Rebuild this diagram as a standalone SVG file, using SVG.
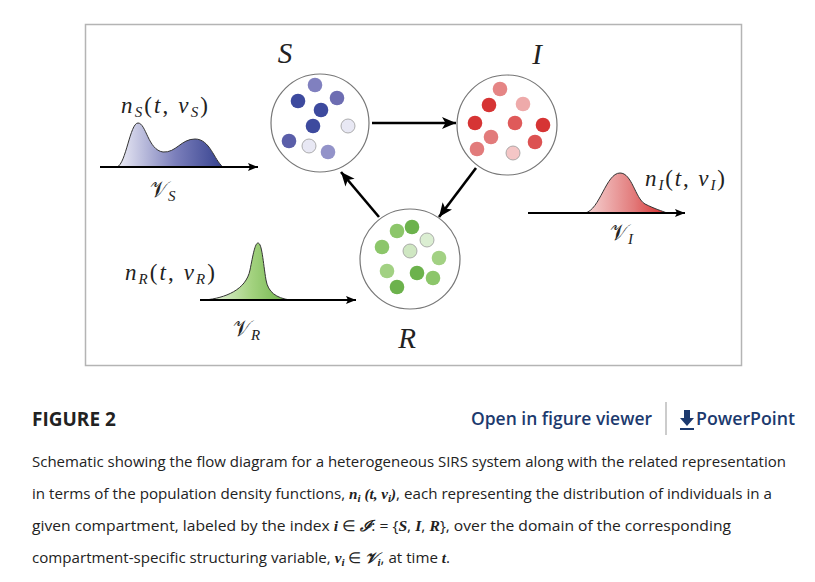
<svg xmlns="http://www.w3.org/2000/svg" width="815" height="582" viewBox="0 0 815 582">
<defs>
<linearGradient id="gS" x1="117" y1="0" x2="223" y2="0" gradientUnits="userSpaceOnUse">
<stop offset="0" stop-color="#eeeef7"/><stop offset="0.55" stop-color="#7b7fbb"/><stop offset="1" stop-color="#36428f"/>
</linearGradient>
<linearGradient id="gI" x1="585" y1="0" x2="667" y2="0" gradientUnits="userSpaceOnUse">
<stop offset="0" stop-color="#f6d6d6"/><stop offset="0.6" stop-color="#e27a7a"/><stop offset="1" stop-color="#d62b2b"/>
</linearGradient>
<linearGradient id="gR" x1="205" y1="0" x2="290" y2="0" gradientUnits="userSpaceOnUse">
<stop offset="0" stop-color="#f1f8ea"/><stop offset="0.55" stop-color="#a3d27f"/><stop offset="1" stop-color="#6cb247"/>
</linearGradient>
<marker id="ah" markerUnits="userSpaceOnUse" markerWidth="16" markerHeight="14" refX="14" refY="6" orient="auto">
<path d="M0,0 L14,6 L0,12 L3.5,6 z" fill="#000"/>
</marker>
<marker id="ah2" markerUnits="userSpaceOnUse" markerWidth="12" markerHeight="10" refX="10" refY="4" orient="auto">
<path d="M0,0 L10,4 L0,8 L2,4 z" fill="#000"/>
</marker>
</defs>
<style>
.frame{fill:#fff;stroke:#b4b4b4;stroke-width:1.5}
.circ{fill:#fff;stroke:#777;stroke-width:1.2}
.flow{stroke:#000;stroke-width:2.6;fill:none;marker-end:url(#ah)}
.axis{stroke:#000;stroke-width:2.2;fill:none;marker-end:url(#ah2)}
.curve{stroke:#333;stroke-width:1}
.lbl{font-family:"Liberation Serif","DejaVu Serif",serif;font-style:italic;fill:#222}
.up{font-style:normal}
.cal{font-family:"DejaVu Serif","Liberation Serif",serif;font-style:normal;font-weight:normal}
.cap{font-family:"Open Sans",sans-serif;font-size:15px;fill:#222}
.m{font-family:"Liberation Serif","DejaVu Serif",serif;font-style:italic;font-weight:bold}
.hd{font-family:"Open Sans",sans-serif;font-size:18px;font-weight:600}
.lt{stroke:#9a9a9a;stroke-width:0.8}
.d{r:7.3px}
</style>
<rect class="frame" x="85.5" y="24.5" width="656" height="341"/>

<g id="connectors">
<path class="flow" d="M372,123 L456,123"/>
<path class="flow" d="M476,168 L439,217"/>
<path class="flow" d="M379,217 L341,172"/>
</g>

<g id="node-S">
<circle class="circ" cx="320" cy="123" r="49"/>
<circle cx="315" cy="85" r="7.3" fill="#8080bf"/>
<circle cx="298" cy="101" r="7.3" fill="#3d4a9e"/>
<circle cx="337" cy="98" r="7.3" fill="#6d6db2"/>
<circle cx="321" cy="110" r="7.3" fill="#3d4a9e"/>
<circle cx="313" cy="126" r="7.3" fill="#3d4a9e"/>
<circle class="lt" cx="348" cy="126" r="7" fill="#e8e8f4"/>
<circle cx="289" cy="141" r="7.3" fill="#5a5ea9"/>
<circle class="lt" cx="309" cy="146" r="7" fill="#e8e8f4"/>
<circle cx="328" cy="152" r="7.3" fill="#9393c9"/>
<text class="lbl" x="285" y="63" font-size="29" text-anchor="middle">S</text>
</g>

<g id="node-I">
<circle class="circ" cx="507" cy="125" r="50"/>
<circle cx="500" cy="89" r="7.3" fill="#e58585"/>
<circle cx="489" cy="105" r="7.3" fill="#d63434"/>
<circle cx="523" cy="104" r="7.3" fill="#eeaaaa"/>
<circle cx="475" cy="123" r="7.3" fill="#d63434"/>
<circle cx="515" cy="123" r="7.3" fill="#df5a5a"/>
<circle cx="543" cy="125" r="7.3" fill="#d63434"/>
<circle cx="491" cy="137" r="7.3" fill="#e27b7b"/>
<circle cx="535" cy="142" r="7.3" fill="#dc5252"/>
<circle cx="477" cy="149" r="7.3" fill="#e27b7b"/>
<circle class="lt" cx="513" cy="153" r="7" fill="#f4c6c6"/>
<text class="lbl" x="537" y="64" font-size="29" text-anchor="middle">I</text>
</g>

<g id="node-R">
<circle class="circ" cx="410" cy="259" r="50"/>
<circle cx="397" cy="231" r="7.3" fill="#8cc66a"/>
<circle cx="412" cy="227" r="7.3" fill="#6cb24c"/>
<circle class="lt" cx="427" cy="240" r="7" fill="#dbeed2"/>
<circle cx="382" cy="247" r="7.3" fill="#8cc66a"/>
<circle class="lt" cx="410" cy="251" r="7" fill="#cfe7c2"/>
<circle cx="439" cy="258" r="7.3" fill="#a2d183"/>
<circle cx="387" cy="271" r="7.3" fill="#a2d183"/>
<circle cx="417" cy="273" r="7.3" fill="#6cb24c"/>
<circle cx="433" cy="278" r="7.3" fill="#8cc66a"/>
<circle cx="397" cy="287" r="7.3" fill="#6cb24c"/>
<text class="lbl" x="407" y="348" font-size="29" text-anchor="middle">R</text>
</g>

<g id="dist-S">
<path class="curve" fill="url(#gS)" d="M117,167 C126,164 130,123 138,123 C146,123 148,150 163,152 C176,153 181,139 195,139 C210,139 214,160 223,167 Z"/>
<path class="axis" d="M100,167 L258,167"/>
<text class="lbl" x="121" y="113" font-size="23" textLength="87" lengthAdjust="spacing">n<tspan font-size="15" dy="4">S</tspan><tspan class="up" dy="-4">(</tspan>t<tspan class="up">, </tspan>v<tspan font-size="15" dy="4">S</tspan><tspan class="up" dy="-4">)</tspan></text>
<text class="lbl" x="150" y="197" font-size="22"><tspan class="cal">𝒱</tspan><tspan font-size="15" dy="4">S</tspan></text>
</g>

<g id="dist-I">
<path class="curve" fill="url(#gI)" d="M585,213 C600,210 606,173 620,173 C632,173 635,198 645,204 C655,209 662,211 667,213 Z"/>
<path class="axis" d="M528,213 L685,213"/>
<text class="lbl" x="645" y="186" font-size="23" textLength="80" lengthAdjust="spacing">n<tspan font-size="15" dy="4">I</tspan><tspan class="up" dy="-4">(</tspan>t<tspan class="up">, </tspan>v<tspan font-size="15" dy="4">I</tspan><tspan class="up" dy="-4">)</tspan></text>
<text class="lbl" x="610" y="240" font-size="22"><tspan class="cal">𝒱</tspan><tspan font-size="15" dy="4">I</tspan></text>
</g>

<g id="dist-R">
<path class="curve" fill="url(#gR)" d="M205,300 C225,298 246,290 250,270 C253,255 255,243 258,243 C262,243 263,262 266,280 C268,292 276,298 290,300 Z"/>
<path class="axis" d="M200,300 L356,300"/>
<text class="lbl" x="125" y="280" font-size="23" textLength="90" lengthAdjust="spacing">n<tspan font-size="15" dy="4">R</tspan><tspan class="up" dy="-4">(</tspan>t<tspan class="up">, </tspan>v<tspan font-size="15" dy="4">R</tspan><tspan class="up" dy="-4">)</tspan></text>
<text class="lbl" x="233" y="336" font-size="22"><tspan class="cal">𝒱</tspan><tspan font-size="15" dy="4">R</tspan></text>
</g>

<g id="caption">
<text x="32" y="426" font-family="'Open Sans',sans-serif" font-size="19" font-weight="bold" fill="#222">FIGURE 2</text>
<text class="hd" x="471" y="425" fill="#1c3a6e" textLength="181" lengthAdjust="spacingAndGlyphs">Open in figure viewer</text>
<line x1="666" y1="402" x2="666" y2="435" stroke="#999" stroke-width="1"/>
<path d="M684,410 H690 V418 H694 L687,426 L680,418 H684 Z M680,428 H694 V430 H680 Z" fill="#1c3a6e"/>
<text class="hd" x="696" y="425" fill="#1c3a6e" textLength="99" lengthAdjust="spacingAndGlyphs">PowerPoint</text>
<text class="cap" x="32" y="467" textLength="754" lengthAdjust="spacingAndGlyphs">Schematic showing the flow diagram for a heterogeneous SIRS system along with the related representation</text>
<text class="cap" x="32" y="499" textLength="740" lengthAdjust="spacingAndGlyphs">in terms of the population density functions, <tspan class="m">n</tspan><tspan class="m" font-size="11" dy="3">i</tspan><tspan class="m" dy="-3"> (t, v</tspan><tspan class="m" font-size="11" dy="3">i</tspan><tspan class="m" dy="-3">)</tspan>, each representing the distribution of individuals in a</text>
<text class="cap" x="32" y="531" textLength="699" lengthAdjust="spacingAndGlyphs">given compartment, labeled by the index <tspan class="m">i</tspan> ∈ <tspan class="m">ℐ</tspan>: = {<tspan class="m">S</tspan>, <tspan class="m">I</tspan>, <tspan class="m">R</tspan>}, over the domain of the corresponding</text>
<text class="cap" x="32" y="563" textLength="418" lengthAdjust="spacingAndGlyphs">compartment-specific structuring variable, <tspan class="m">v</tspan><tspan class="m" font-size="11" dy="3">i</tspan><tspan dy="-3"> ∈ </tspan><tspan class="m">𝒱</tspan><tspan class="m" font-size="11" dy="3">i</tspan><tspan dy="-3">, at time </tspan><tspan class="m">t</tspan>.</text>
</g>
</svg>
